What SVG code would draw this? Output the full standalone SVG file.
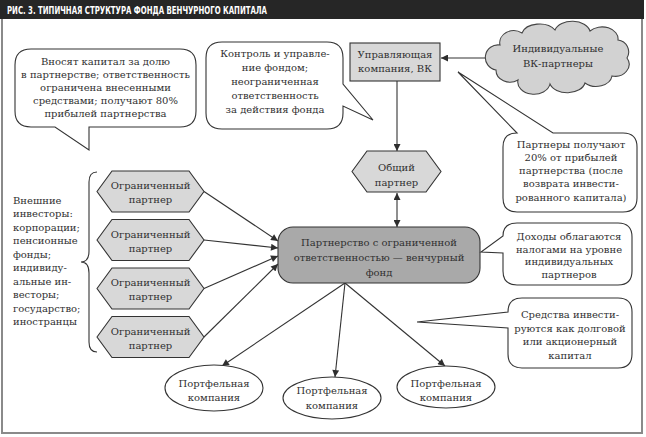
<svg xmlns="http://www.w3.org/2000/svg" width="646" height="437" viewBox="0 0 646 437">
<defs>
<marker id="ah" viewBox="0 0 10 10" refX="10" refY="5" markerWidth="9" markerHeight="7" orient="auto-start-reverse" markerUnits="userSpaceOnUse"><path d="M0,0 L10,5 L0,10 Z" fill="#2e2e2e"/></marker>
<style>
text{font-family:'DejaVu Serif','Liberation Serif','Noto Serif',serif;font-size:10px;fill:#303030}
.t{text-anchor:middle}
.co{fill:#fff;stroke:#333;stroke-width:1.1;stroke-linejoin:miter}
.hx{fill:#d8d8d8;stroke:#333;stroke-width:1.1}
.el{fill:#fff;stroke:#333;stroke-width:1.1}
.cn{fill:none;stroke:#333;stroke-width:1.1}
.ar{fill:none;stroke:#333;stroke-width:1.1;marker-end:url(#ah)}
</style>
</defs>
<rect x="2" y="1" width="640" height="432" fill="#fff" stroke="#8a8a8a" stroke-width="2"/>
<rect x="0" y="0" width="644" height="19" fill="#262626"/>
<text x="7" y="13.5" style="font-family:'Liberation Sans Narrow','DejaVu Sans Condensed','Liberation Sans',sans-serif;font-size:10px;font-weight:bold;fill:#fff" textLength="260" lengthAdjust="spacingAndGlyphs">РИС. 3. ТИПИЧНАЯ СТРУКТУРА ФОНДА ВЕНЧУРНОГО КАПИТАЛА</text>

<g id="connectors">
<line class="ar" x1="487" y1="58" x2="441" y2="58"/>
<line class="ar" x1="397" y1="81" x2="397" y2="151"/>
<line class="ar" x1="397" y1="193" x2="397" y2="227" style="marker-start:url(#ah)"/>
<line class="ar" x1="204" y1="191.5" x2="278" y2="241"/>
<line class="ar" x1="204" y1="240" x2="278" y2="248"/>
<line class="ar" x1="204" y1="288.5" x2="278" y2="256"/>
<line class="ar" x1="204" y1="337" x2="278" y2="264"/>
<line class="ar" x1="345" y1="283" x2="222" y2="366"/>
<line class="ar" x1="345" y1="283" x2="335" y2="377"/>
<line class="ar" x1="345" y1="283" x2="445" y2="366"/>
<path class="cn" d="M97,172 Q89,172 89,182 V251 Q89,262 81,262 Q89,262 89,273 V342 Q89,352 97,352" stroke-width="1.5"/>
</g>

<g id="callout-lp">
<path class="co" d="M31,49 H180 Q196,49 196,65 V111 Q196,127 180,127 H89 L89,150 L55,127 H31 Q15,127 15,111 V65 Q15,49 31,49 Z"/>
<text class="t" x="105.5" y="64.5">Вносят капитал за долю</text>
<text class="t" x="105.5" y="77.5">в партнерстве; ответственность</text>
<text class="t" x="105.5" y="90.5">ограничена внесенными</text>
<text class="t" x="105.5" y="103.5">средствами; получают 80%</text>
<text class="t" x="105.5" y="116.5">прибылей партнерства</text>
</g>

<g id="callout-gp">
<path class="co" d="M222,42 H327 Q343,42 343,58 V84 L373,120 L343,106 V113 Q343,129 327,129 H222 Q206,129 206,113 V58 Q206,42 222,42 Z"/>
<text class="t" x="275" y="57">Контроль и управле-</text>
<text class="t" x="275" y="71">ние фондом;</text>
<text class="t" x="275" y="85">неограниченная</text>
<text class="t" x="275" y="98.5">ответственность</text>
<text class="t" x="275" y="112.5">за действия фонда</text>
</g>

<g id="mgmt">
<rect x="350" y="43" width="90" height="38" fill="#d8d8d8" stroke="#333" stroke-width="1.1"/>
<text class="t" x="395" y="58">Управляющая</text>
<text class="t" x="395" y="72">компания, ВК</text>
</g>

<g id="vc-partners">
<path d="M500,45 A14,12 0 0 1 522,33 A18,12 0 0 1 555,30 A18,12 0 0 1 590,31 A16,12 0 0 1 618,40 A12,12 0 0 1 627,58 A14,12 0 0 1 612,76 A16,12 0 0 1 585,83 A18,12 0 0 1 550,84 A16,12 0 0 1 518,80 A14,12 0 0 1 496,70 A12,12 0 0 1 500,45 Z" fill="#d2d2d2" stroke="#444" stroke-width="1.1"/>
<text class="t" x="558" y="52">Индивидуальные</text>
<text class="t" x="558" y="67">ВК-партнеры</text>
</g>

<g id="callout-20">
<path class="co" d="M517,133 L458,72 L553,133 H623 Q637,133 637,147 V198 Q637,212 623,212 H517 Q503,212 503,198 V147 Q503,133 517,133 Z"/>
<text class="t" x="571" y="148">Партнеры получают</text>
<text class="t" x="571" y="161">20% от прибылей</text>
<text class="t" x="571" y="174">партнерства (после</text>
<text class="t" x="571" y="187">возврата инвести-</text>
<text class="t" x="571" y="201">рованного капитала)</text>
</g>

<g id="general-partner">
<polygon class="hx" points="352,171.5 367,151 426,151 441,171.5 426,192 367,192"/>
<text class="t" x="396.5" y="171">Общий</text>
<text class="t" x="396.5" y="186">партнер</text>
</g>

<g id="fund">
<rect x="278" y="227" width="202" height="56" rx="15" fill="#a9a9a9" stroke="#333" stroke-width="1.1"/>
<text class="t" x="379" y="246">Партнерство с ограниченной</text>
<text class="t" x="379" y="261">ответственностью — венчурный</text>
<text class="t" x="379" y="275.5">фонд</text>
</g>

<g id="callout-tax">
<path class="co" d="M517,223 H618 Q632,223 632,237 V271 Q632,285 618,285 H517 Q503,285 503,271 V253 L481,252 L503,236 Q503,223 517,223 Z"/>
<text class="t" x="569" y="240">Доходы облагаются</text>
<text class="t" x="569" y="252.5">налогами на уровне</text>
<text class="t" x="569" y="265">индивидуальных</text>
<text class="t" x="569" y="277.5">партнеров</text>
</g>

<g id="callout-funds">
<path class="co" d="M522,298 H618 Q632,298 632,312 V354 Q632,368 618,368 H522 Q508,368 508,354 V328 L417,322 L508,312 Q508,298 522,298 Z"/>
<text class="t" x="570" y="318">Средства инвести-</text>
<text class="t" x="570" y="331.5">руются как долговой</text>
<text class="t" x="570" y="345">или акционерный</text>
<text class="t" x="570" y="358.5">капитал</text>
</g>

<g id="investors">
<text x="13" y="203.5">Внешние</text>
<text x="13" y="217">инвесторы:</text>
<text x="13" y="230.5">корпорации;</text>
<text x="13" y="244">пенсионные</text>
<text x="13" y="257.5">фонды;</text>
<text x="13" y="271">индивиду-</text>
<text x="13" y="284.5">альные ин-</text>
<text x="13" y="298">весторы;</text>
<text x="13" y="311.5">государство;</text>
<text x="13" y="325">иностранцы</text>
</g>

<g id="lp1">
<polygon class="hx" points="97,191.5 112,171 189,171 204,191.5 189,212 112,212"/>
<text class="t" x="150.5" y="189">Ограниченный</text>
<text class="t" x="150.5" y="203">партнер</text>
</g>
<g id="lp2">
<polygon class="hx" points="97,240 112,219.5 189,219.5 204,240 189,260.5 112,260.5"/>
<text class="t" x="150.5" y="237.5">Ограниченный</text>
<text class="t" x="150.5" y="251.5">партнер</text>
</g>
<g id="lp3">
<polygon class="hx" points="97,288.5 112,268 189,268 204,288.5 189,309 112,309"/>
<text class="t" x="150.5" y="286">Ограниченный</text>
<text class="t" x="150.5" y="300">партнер</text>
</g>
<g id="lp4">
<polygon class="hx" points="97,337 112,316.5 189,316.5 204,337 189,357.5 112,357.5"/>
<text class="t" x="150.5" y="334.5">Ограниченный</text>
<text class="t" x="150.5" y="348.5">партнер</text>
</g>

<g id="pc1">
<ellipse class="el" cx="214" cy="388" rx="49" ry="23"/>
<text class="t" x="214" y="387">Портфельная</text>
<text class="t" x="214" y="401">компания</text>
</g>
<g id="pc2">
<ellipse class="el" cx="332" cy="398" rx="49" ry="21"/>
<text class="t" x="332" y="394">Портфельная</text>
<text class="t" x="332" y="409">компания</text>
</g>
<g id="pc3">
<ellipse class="el" cx="446" cy="387" rx="49" ry="21"/>
<text class="t" x="446" y="387">Портфельная</text>
<text class="t" x="446" y="401">компания</text>
</g>
</svg>
